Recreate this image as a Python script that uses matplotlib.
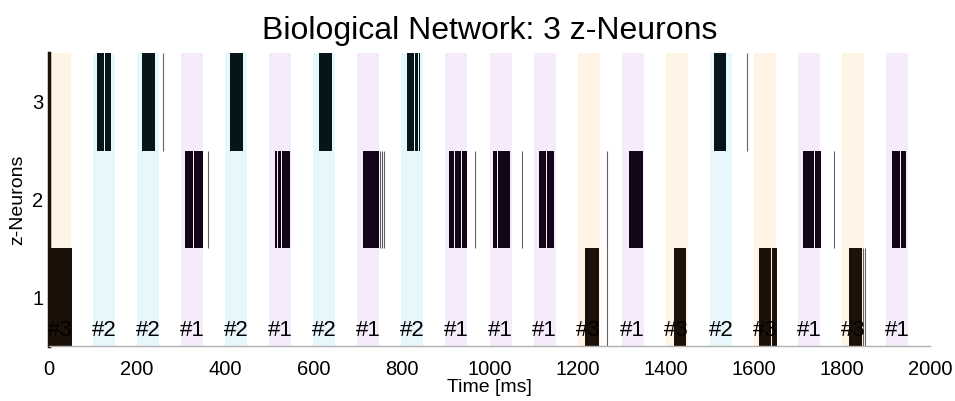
import matplotlib
matplotlib.use("Agg")
import matplotlib.pyplot as plt

plt.rcParams['font.family'] = ['Liberation Sans', 'DejaVu Sans']

# Stimulus windows: onset times [ms] and which pattern was presented
stim_onsets = [0, 100, 200, 300, 400, 500, 600, 700, 800, 900,
               1000, 1100, 1200, 1300, 1400, 1500, 1600, 1700, 1800, 1900]
stim_labels = ['#3', '#2', '#2', '#1', '#2', '#1', '#2', '#1', '#2', '#1',
               '#1', '#1', '#3', '#1', '#3', '#2', '#3', '#1', '#3', '#1']
stim_duration = 50

# Burst intervals (start, end) in ms for each z-neuron
bursts_z1 = [(0, 53), (1217, 1248), (1418, 1445), (1612, 1640), (1642, 1653),
             (1816, 1845)]
bursts_z2 = [(309, 327), (329, 349), (513, 517), (519, 527), (529, 537),
             (539, 548), (713, 749), (909, 919), (921, 935), (937, 948),
             (1007, 1016), (1019, 1046), (1112, 1128), (1131, 1146),
             (1317, 1348), (1712, 1736), (1738, 1752), (1913, 1933),
             (1935, 1946)]
bursts_z3 = [(108, 125), (128, 141), (212, 241), (411, 441), (613, 642),
             (812, 829), (832, 837), (839, 842), (1509, 1538)]

# Isolated spikes [ms] for each z-neuron
spikes_z1 = [1267, 1848, 1853]
spikes_z2 = [362, 752, 756, 761, 966, 1073, 1267, 1783]
spikes_z3 = [259, 1585]

neuron_ids = [1, 2, 3]
neuron_colors = ['#1c1108', '#130619', '#061519']
pattern_colors = {'#1': '#f6ebfb', '#2': '#e8f7fc', '#3': '#fff3e6'}

fig = plt.figure(figsize=(9.55, 4.01), dpi=100)
ax = fig.add_axes([49 / 955, 1 - 346 / 401, 881 / 955, 293 / 401])

# Background shading for the stimulus windows
for onset, lab in zip(stim_onsets, stim_labels):
    ax.axvspan(onset, onset + stim_duration, color=pattern_colors[lab],
               lw=0, zorder=0)

bursts = [bursts_z1, bursts_z2, bursts_z3]
spikes = [spikes_z1, spikes_z2, spikes_z3]
for nid, col, b, s in zip(neuron_ids, neuron_colors, bursts, spikes):
    ax.broken_barh([(a, e - a) for a, e in b], (nid - 0.5, 1.0),
                   facecolors=col, edgecolor='none', zorder=2)
    ax.vlines(s, nid - 0.5, nid + 0.5, colors=col, lw=0.8, alpha=0.65,
              zorder=2)

# Pattern labels along the bottom of each window
for onset, lab in zip(stim_onsets, stim_labels):
    ax.text(onset + stim_duration / 2, 0.66, lab, ha='center', va='center',
            fontsize=16, color='black', zorder=3)

ax.set_xlim(0, 2000)
ax.set_ylim(0.5, 3.5)
ax.set_yticks(neuron_ids)
ax.set_xticks([0, 200, 400, 600, 800, 1000, 1200, 1400, 1600, 1800, 2000])
ax.tick_params(axis='x', length=0, labelsize=14.5, pad=10)
ax.tick_params(axis='y', length=0, labelsize=14.5, pad=4)
for side in ('top', 'right'):
    ax.spines[side].set_visible(False)
ax.spines['left'].set_color('#1c1108')
ax.spines['left'].set_linewidth(2.5)
ax.spines['bottom'].set_color('#b0b0b0')
ax.spines['bottom'].set_linewidth(1.0)

ax.set_xlabel('Time [ms]', fontsize=14, labelpad=0)
ax.set_ylabel('z-Neurons', fontsize=14, labelpad=4)
ax.set_title('Biological Network: 3 z-Neurons', fontsize=23, pad=10)

fig.savefig('out.png', dpi=100)
